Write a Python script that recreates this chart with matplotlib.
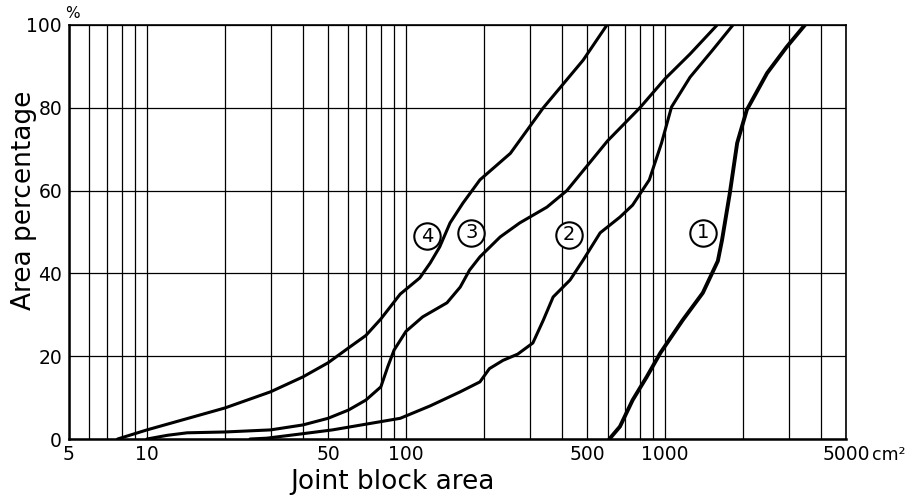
import matplotlib
matplotlib.use("Agg")
import matplotlib.pyplot as plt
from matplotlib.ticker import FixedLocator, NullFormatter

# curve data (block area in cm2, cumulative area %)
c1_x = [610, 670, 750, 850, 960, 1170, 1400, 1600, 1660, 1780, 1900, 2070, 2480, 2950, 3470]
c1_y = [0, 3, 9.4, 15, 20.8, 28.7, 35.3, 43, 48, 59.4, 71.5, 79.5, 88.4, 94.7, 100]

c2_x = [25, 29, 39, 52, 95, 124, 162, 193, 210, 237, 270, 309, 339, 370, 430, 483,
        562, 670, 750, 870, 970, 1060, 1250, 1530, 1830]
c2_y = [0, 0.2, 1.2, 2.2, 5, 8, 11.4, 13.8, 17, 19, 20.5, 23.2, 28.7, 34.3, 38.4, 43.2,
        49.8, 53.6, 56.5, 62.6, 71.5, 80.2, 87.4, 94, 100]

c3_x = [10, 12, 14.3, 20, 30, 40, 50, 60, 70, 80, 85, 90, 100, 116, 144, 162, 176, 193,
        231, 275, 350, 418, 600, 800, 1000, 1250, 1590]
c3_y = [0, 0.9, 1.5, 1.7, 2.2, 3.4, 5, 7, 9.4, 12.6, 17.4, 21.5, 26, 29.5, 32.9, 36.7,
        40.8, 44, 48.8, 52.2, 56, 60, 72, 80, 87, 93, 100]

c4_x = [7.7, 10, 20, 30, 40, 50, 60, 70, 80, 95, 113, 124, 135, 148, 166, 193, 253, 339, 483, 597]
c4_y = [0, 2.2, 7.5, 11.4, 15, 18.4, 22, 25, 29, 35, 38.9, 42.5, 46.4, 52.2, 57, 62.6, 69, 80, 91.5, 100]

curve_labels = ["1", "2", "3", "4"]
label_x = [1400, 425, 179, 121]
label_y = [49.8, 49.3, 49.8, 49]

x_major = [5, 10, 50, 100, 500, 1000, 5000]
x_major_labels = ["5", "10", "50", "100", "500", "1000", "5000"]
x_grid = [6, 7, 8, 9, 20, 30, 40, 60, 70, 80, 90, 200, 300, 400, 600, 700, 800, 900,
          2000, 3000, 4000]
y_ticks = [0, 20, 40, 60, 80, 100]
y_labels = ["0", "20", "40", "60", "80", "100"]

plt.rcParams["font.family"] = ["DejaVu Sans"]

fig = plt.figure(figsize=(9.16, 4.95), dpi=100)
ax = fig.add_axes([0.0753, 0.1131, 0.8483, 0.8364])

ax.set_xscale("log")
ax.set_xlim(5, 5000)
ax.set_ylim(0, 100)

ax.xaxis.set_major_locator(FixedLocator(x_major))
ax.xaxis.set_minor_locator(FixedLocator(x_grid))
ax.xaxis.set_minor_formatter(NullFormatter())
ax.set_xticklabels(x_major_labels)
ax.set_yticks(y_ticks)
ax.set_yticklabels(y_labels)

ax.tick_params(which="both", length=0, labelsize=13.5)
ax.tick_params(axis="x", pad=4)
ax.tick_params(axis="y", pad=5)

ax.grid(which="both", axis="x", color="black", linewidth=0.9)
ax.grid(which="major", axis="y", color="black", linewidth=0.9)

for side in ["left", "bottom"]:
    ax.spines[side].set_linewidth(1.8)
for side in ["top", "right"]:
    ax.spines[side].set_linewidth(1.2)

ax.plot(c1_x, c1_y, color="black", linewidth=2.8, solid_capstyle="round")
ax.plot(c2_x, c2_y, color="black", linewidth=2.2, solid_capstyle="round")
ax.plot(c3_x, c3_y, color="black", linewidth=2.2, solid_capstyle="round")
ax.plot(c4_x, c4_y, color="black", linewidth=2.2, solid_capstyle="round")

for lab, lx, ly in zip(curve_labels, label_x, label_y):
    ax.plot([lx], [ly], marker="o", markersize=19, markerfacecolor="white",
            markeredgecolor="black", markeredgewidth=1.5, zorder=5)
    ax.text(lx, ly, lab, ha="center", va="center", fontsize=14, zorder=6)

# unit after the last tick label, percent sign above 100
ax.annotate("cm²", xy=(5000, 0), xycoords="data", xytext=(19, -5),
            textcoords="offset points", ha="left", va="top", fontsize=12.5,
            annotation_clip=False)
ax.annotate("%", xy=(5, 100), xycoords="data", xytext=(-3, 3),
            textcoords="offset points", ha="left", va="bottom", fontsize=11,
            annotation_clip=False)

fig.text(0.429, 0.013, "Joint block area", ha="center", va="baseline", fontsize=19)
fig.text(0.026, 0.596, "Area percentage", ha="center", va="center", fontsize=19,
         rotation=90)

fig.savefig("out.png", dpi=100)
